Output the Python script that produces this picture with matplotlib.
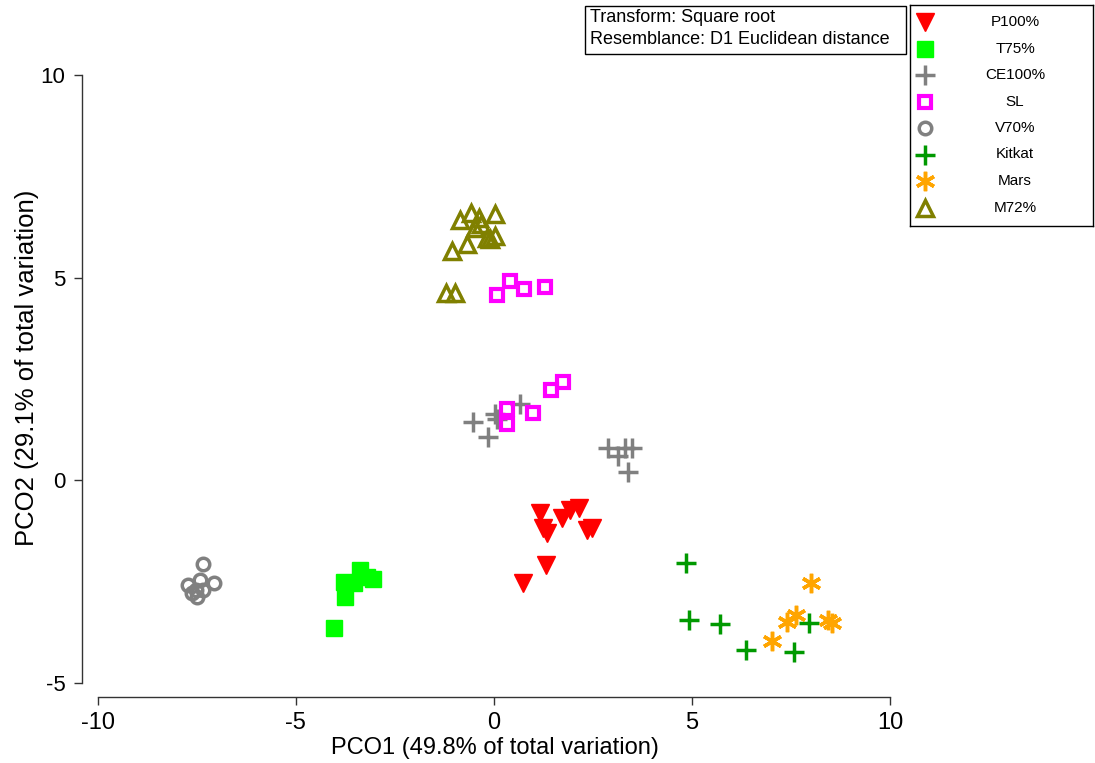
import matplotlib
matplotlib.use("Agg")
import matplotlib.pyplot as plt
from matplotlib.patches import Rectangle

plt.rcParams['font.family'] = ['Liberation Sans', 'DejaVu Sans']

# ---- data (PCO1, PCO2) ----
p100_x = [1.16, 1.24, 1.34, 1.72, 1.92, 2.15, 2.35, 2.47, 1.31, 0.73]
p100_y = [-0.79, -1.16, -1.30, -0.93, -0.74, -0.69, -1.23, -1.18, -2.09, -2.53]

t75_x = [-3.38, -3.21, -3.06, -3.79, -3.54, -3.76, -4.04]
t75_y = [-2.21, -2.39, -2.43, -2.51, -2.53, -2.88, -3.64]

ce100_x = [-0.53, 0.03, -0.15, 0.66, 0.08, 2.88, 3.13, 3.31, 3.48, 3.38]
ce100_y = [1.43, 1.65, 1.06, 1.89, 1.52, 0.79, 0.61, 0.81, 0.81, 0.22]

sl_x = [0.08, 0.40, 0.76, 1.29, 0.33, 0.33, 0.98, 1.44, 1.74]
sl_y = [4.57, 4.92, 4.72, 4.77, 1.77, 1.40, 1.67, 2.24, 2.43]

v70_x = [-7.35, -7.07, -7.73, -7.53, -7.50, -7.35, -7.42, -7.63]
v70_y = [-2.07, -2.53, -2.58, -2.70, -2.88, -2.70, -2.46, -2.78]

kitkat_x = [4.85, 4.92, 5.71, 6.36, 7.58, 7.95]
kitkat_y = [-2.04, -3.44, -3.54, -4.18, -4.23, -3.52]

mars_x = [8.00, 7.63, 7.40, 7.02, 8.43, 8.54]
mars_y = [-2.53, -3.32, -3.49, -3.96, -3.44, -3.52]

m72_x = [-0.86, -0.58, -0.38, 0.03, -0.48, -0.33, -0.18, 0.03, -0.10, -0.68, -1.06, -1.21, -0.98]
m72_y = [6.42, 6.59, 6.47, 6.57, 6.22, 6.32, 5.97, 6.02, 5.95, 5.83, 5.66, 4.62, 4.62]

groups = ["P100%", "T75%", "CE100%", "SL", "V70%", "Kitkat", "Mars", "M72%"]
xticks = [-10, -5, 0, 5, 10]
yticks = [-5, 0, 5, 10]
annotation_lines = ["Transform: Square root", "Resemblance: D1 Euclidean distance"]

styles = {
    "P100%":  dict(marker='v', ms=13, mfc='#FF0000', mec='#FF0000', mew=1),
    "T75%":   dict(marker='s', ms=11, mfc='#00FF00', mec='#00FF00', mew=1),
    "CE100%": dict(marker='+', ms=15, mfc='none', mec='#808080', mew=2.5),
    "SL":     dict(marker='s', ms=8.5, mfc='none', mec='#FF00FF', mew=3),
    "V70%":   dict(marker='o', ms=9, mfc='none', mec='#808080', mew=2.5),
    "Kitkat": dict(marker='+', ms=15, mfc='none', mec='#009900', mew=2.5),
    "Mars":   dict(marker=(6, 2, 0), ms=14, mfc='none', mec='#FFA500', mew=2.5),
    "M72%":   dict(marker='^', ms=12, mfc='none', mec='#808000', mew=2.5),
}
data = {
    "P100%": (p100_x, p100_y), "T75%": (t75_x, t75_y), "CE100%": (ce100_x, ce100_y),
    "SL": (sl_x, sl_y), "V70%": (v70_x, v70_y), "Kitkat": (kitkat_x, kitkat_y),
    "Mars": (mars_x, mars_y), "M72%": (m72_x, m72_y),
}

fig = plt.figure(figsize=(10.95, 7.63), dpi=100)
W, H = 1095, 763
ax = fig.add_axes([82 / W, (H - 697) / H, (890 - 82) / W, (697 - 75) / H])

for g in groups:
    xs, ys = data[g]
    ax.plot(xs, ys, ls='none', **styles[g])

ax.set_xlim(-10.4, 10.0)
ax.set_ylim(-5.34, 10.0)
for s in ['top', 'right']:
    ax.spines[s].set_visible(False)
ax.spines['left'].set_bounds(-5, 10)
ax.spines['bottom'].set_bounds(-10, 10)
for s in ['left', 'bottom']:
    ax.spines[s].set_color('#333333')
    ax.spines[s].set_linewidth(1.0)
ax.set_xticks(xticks)
ax.set_yticks(yticks)
ax.set_xticklabels([str(v) for v in xticks])
ax.set_yticklabels([str(v) for v in yticks])
ax.tick_params(direction='out', length=6, width=1, color='#333333', labelsize=16, pad=6)
ax.tick_params(axis='x', labelsize=17, pad=5)
ax.set_xlabel("PCO1 (49.8% of total variation)", fontsize=17)
ax.set_ylabel("PCO2 (29.1% of total variation)", fontsize=18.5)
ax.xaxis.set_label_coords(0.511, -0.064)
ax.yaxis.set_label_coords(-0.053, 0.53)

# annotation box
fig.text(590 / W, 1 - 17 / H, annotation_lines[0], fontsize=13, va='center', ha='left')
fig.text(590 / W, 1 - 40 / H, annotation_lines[1], fontsize=13, va='center', ha='left')
fig.add_artist(Rectangle((585 / W, 1 - 54 / H), (906 - 585) / W, (54 - 6) / H,
                         transform=fig.transFigure, fill=False, ec='black', lw=1))

# legend panel
lax = fig.add_axes([910 / W, 1 - 226 / H, (1093 - 910) / W, (226 - 5) / H])
lax.set_xlim(0, 183)
lax.set_ylim(221, 0)
lax.set_xticks([])
lax.set_yticks([])
for s in lax.spines.values():
    s.set_color('black')
    s.set_linewidth(1)
for i, g in enumerate(groups):
    yy = 17 + i * 26.5
    lax.plot([15], [yy], ls='none', **styles[g])
    lax.text(105, yy, g, ha='center', va='center', fontsize=11,
             family=['Liberation Sans', 'DejaVu Sans'])

fig.savefig("out.png", dpi=100)
